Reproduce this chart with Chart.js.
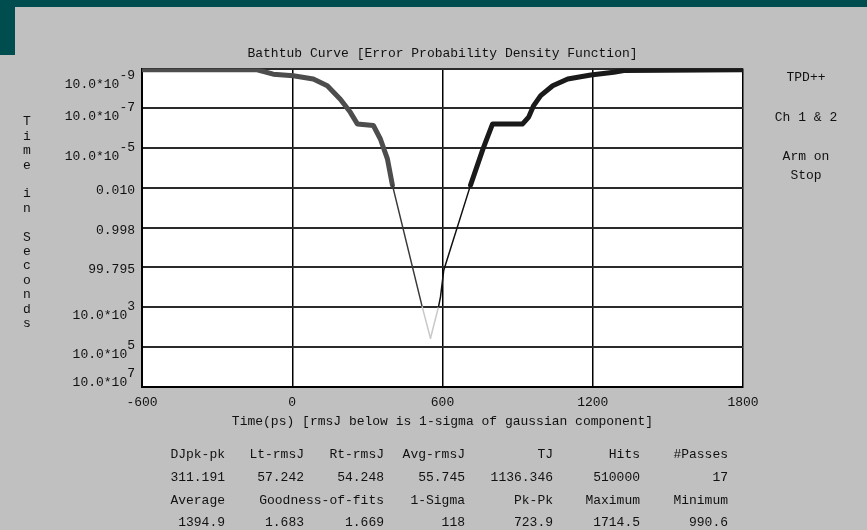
<!DOCTYPE html>
<html>
<head>
<meta charset="utf-8">
<script src="https://cdn.jsdelivr.net/npm/chart.js@4.4.0/dist/chart.umd.min.js"></script>
<style>
  html, body { margin: 0; padding: 0; }
  body {
    width: 867px; height: 530px; position: relative; overflow: hidden;
    background: #c0c0c0; color: #111;
    font: 13px "Liberation Mono", monospace;
  }
  .bar-top { position: absolute; left: 0; top: 0; width: 867px; height: 7px; background: #004d50; }
  .bar-left { position: absolute; left: 0; top: 0; width: 15px; height: 55px; background: #004d50; }
  #plot { position: absolute; left: 0; top: 0; }
  .side { position: absolute; left: 766px; width: 80px; text-align: center; line-height: 16px; white-space: pre; }
  .stat { position: absolute; text-align: right; line-height: 16px; white-space: pre; }
</style>
</head>
<body>
<div class="bar-top"></div>
<div class="bar-left"></div>
<canvas id="plot" width="867" height="530"></canvas>
<div id="side"></div>
<div id="stats"></div>
<script>
// left and right walls of the bathtub (y = decade row, 0 at top)
const leftX = [-600, -140, -76, 4, 84, 140, 192, 232, 260, 324, 352, 380, 400, 519, 552];
const leftY = [0.03, 0.03, 0.14, 0.18, 0.26, 0.43, 0.77, 1.10, 1.39, 1.43, 1.77, 2.27, 2.93, 5.99, 6.78];
const rightX = [552, 584, 592, 605, 712, 760, 772, 800, 920, 944, 964, 992, 1040, 1100, 1192, 1284, 1324, 1800];
const rightY = [6.78, 5.99, 5.74, 5.07, 2.93, 2.05, 1.85, 1.39, 1.39, 1.22, 0.93, 0.68, 0.43, 0.26, 0.16, 0.09, 0.05, 0.03];

const yTickLabels = ['10.0*10^-9', '10.0*10^-7', '10.0*10^-5', '0.010', '0.998', '99.795', '10.0*10^3', '10.0*10^5', '10.0*10^7'];
const xTicks = [-600, 0, 600, 1200, 1800];
const yCaption = 'Time in Seconds';

const sideLines = [['TPD++', 78], ['Ch 1 & 2', 118], ['Arm on', 157], ['Stop', 176]];

const statCols = [225, 304, 384, 465, 553, 640, 728];
const statRows = [455, 478, 501, 523];
const statHead1 = ['DJpk-pk', 'Lt-rmsJ', 'Rt-rmsJ', 'Avg-rmsJ', 'TJ', 'Hits', '#Passes'];
const statVals1 = ['311.191', '57.242', '54.248', '55.745', '1136.346', '510000', '17'];
const statHead2 = ['Average', '', 'Goodness-of-fits', '1-Sigma', 'Pk-Pk', 'Maximum', 'Minimum'];
const statVals2 = ['1394.9', '1.683', '1.669', '118', '723.9', '1714.5', '990.6'];

// side notes
const side = document.getElementById('side');
sideLines.forEach(([t, cy]) => {
  const d = document.createElement('div');
  d.className = 'side';
  d.style.top = (cy - 8) + 'px';
  d.textContent = t;
  side.appendChild(d);
});

// statistics block under the plot
const stats = document.getElementById('stats');
[statHead1, statVals1, statHead2, statVals2].forEach((row, r) => {
  row.forEach((t, c) => {
    if (!t) return;
    const d = document.createElement('div');
    d.className = 'stat';
    d.style.right = (867 - statCols[c]) + 'px';
    d.style.top = (statRows[r] - 8) + 'px';
    d.textContent = t;
    stats.appendChild(d);
  });
});

Chart.defaults.font.family = '"Liberation Mono", monospace';
Chart.defaults.font.size = 13;
Chart.defaults.color = '#111';

// 0 = thick upper wall, 1 = thin slope, 2 = faint bottom
function band(ctx) {
  const m = (ctx.p0.parsed.y + ctx.p1.parsed.y) / 2;
  return m < 2.95 ? 0 : (m < 6 ? 1 : 2);
}

function wall(xs, ys, colors) {
  return {
    data: xs.map((x, i) => ({ x, y: ys[i] })),
    borderColor: colors[0],
    borderWidth: 5,
    pointRadius: 0,
    borderJoinStyle: 'round',
    borderCapStyle: 'round',
    segment: {
      borderColor: ctx => colors[band(ctx)],
      borderWidth: ctx => [5, 1.5, 1.5][band(ctx)]
    }
  };
}

const plotBg = {
  id: 'plotBg',
  beforeDraw(chart) {
    const { ctx, chartArea: a } = chart;
    ctx.save();
    ctx.fillStyle = '#fff';
    ctx.fillRect(a.left, a.top, a.width, a.height);
    ctx.restore();
  }
};

const yLabels = {
  id: 'yLabels',
  afterDraw(chart) {
    const { ctx, chartArea, scales: { y } } = chart;
    const right = chartArea.left - 7;
    ctx.save();
    ctx.fillStyle = '#111';
    ctx.font = '13px "Liberation Mono", monospace';
    ctx.textBaseline = 'middle';
    ctx.textAlign = 'right';
    yTickLabels.forEach((lab, i) => {
      const py = y.getPixelForValue(i);
      const [base, sup] = lab.split('^');
      if (sup) {
        const by = Math.min(Math.max(py + 8, chartArea.top + 16), chartArea.bottom - 4);
        ctx.fillText(sup, right, by - 9);
        ctx.fillText(base, right - ctx.measureText(sup).width, by);
      } else {
        ctx.fillText(base, right, py + 2.5);
      }
    });
    // vertical caption, one letter per row
    ctx.textAlign = 'center';
    [...yCaption].forEach((ch, i) => ctx.fillText(ch, 27, 122 + i * 14.4));
    ctx.restore();
  }
};

new Chart(document.getElementById('plot'), {
  type: 'line',
  data: {
    datasets: [
      wall(leftX, leftY, ['#4d4d4d', '#3a3a3a', '#c8c8c8']),
      wall(rightX, rightY, ['#1a1a1a', '#111111', '#c8c8c8'])
    ]
  },
  options: {
    responsive: false,
    animation: false,
    layout: { padding: { top: 46, left: 142, right: 124, bottom: 101 } },
    plugins: {
      legend: { display: false },
      tooltip: { enabled: false },
      title: {
        display: true,
        text: 'Bathtub Curve [Error Probability Density Function]',
        fullSize: false,
        font: { size: 13, weight: 'normal' },
        padding: { top: 0, bottom: 7 }
      }
    },
    scales: {
      x: {
        type: 'linear',
        min: -600,
        max: 1800,
        afterBuildTicks: s => { s.ticks = xTicks.map(v => ({ value: v })); },
        ticks: { padding: 8, maxRotation: 0, callback: v => String(v) },
        grid: { color: '#000', lineWidth: 1.5, drawTicks: false },
        border: { color: '#000', width: 2 },
        title: {
          display: true,
          text: 'Time(ps) [rmsJ below is 1-sigma of gaussian component]',
          padding: { top: -5, bottom: 0 }
        }
      },
      y: {
        type: 'linear',
        min: 0,
        max: 8,
        reverse: true,
        ticks: { stepSize: 1, display: false },
        grid: { color: '#2a2a2a', lineWidth: 2, drawTicks: false },
        border: { color: '#000', width: 2 }
      }
    }
  },
  plugins: [plotBg, yLabels]
});
</script>
</body>
</html>
